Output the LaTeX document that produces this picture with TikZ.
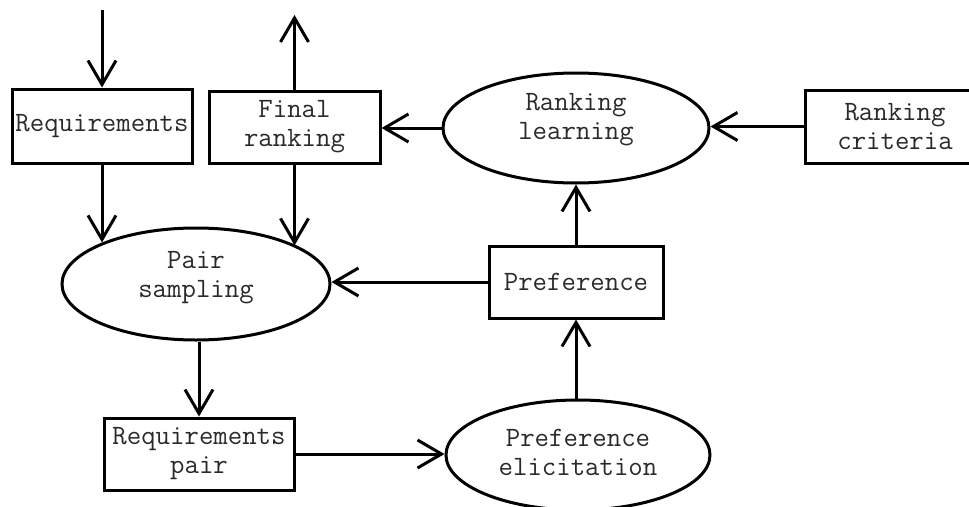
\documentclass[tikz,border=0pt]{standalone}
\usetikzlibrary{shapes.geometric,arrows.meta}
\definecolor{txtc}{HTML}{2a2a2a}
\begin{document}
\begin{tikzpicture}[x=1pt,y=1pt,
  txt/.style={font=\ttfamily\fontsize{28}{29}\selectfont,text=txtc,align=center,inner sep=0pt},
  base/.style={draw=black,line width=3pt,txt},
  boxn/.style={base,rectangle},
  elln/.style={base,ellipse,minimum width=266pt,minimum height=110pt},
  conn/.style={line width=3pt,-{Straight Barb[length=24pt,width=28pt,line width=3pt]}}]
\useasboundingbox (0,0) rectangle (969,-506);
\clip (0,0) rectangle (969,-506);
\node[boxn,minimum width=180pt,minimum height=74pt] (req) at (102,-126) {Requirements};
\node[boxn,minimum width=171pt,minimum height=72pt] (fin) at (294.5,-127) {Final\\ranking};
\node[elln,label={[txt,yshift=8pt]center:Ranking\\learning}] (rl) at (576,-128) {};
\node[boxn,minimum width=180pt,minimum height=73pt] (crit) at (895,-126.5) {Ranking\\criteria};
\node[elln,minimum width=268pt,minimum height=112pt,label={[txt,yshift=6pt]center:Pair\\sampling}] (pair) at (196,-284) {};
\node[boxn,minimum width=174pt,minimum height=72pt] (pref) at (576,-282) {Preference};
\node[boxn,minimum width=190pt,minimum height=72pt] (reqp) at (199,-454) {Requirements\\pair};
\node[elln,minimum width=264pt,label={[txt,yshift=3pt]center:Preference\\elicitation}] (pe) at (578,-455) {};
\coordinate (in) at (102,-10);
\coordinate (out) at (294.5,-15);
\draw[conn] (in) -- (req.north);
\draw[conn] (fin.north) -- (out);
\draw[conn] (req.south) -- (req.south |- pair.156.9);
\draw[conn] (fin.south) -- (fin.south |- pair.21.3);
\draw[conn] (rl.west) -- (rl.west -| fin.east);
\draw[conn] (crit.west) -- (crit.west -| rl.east);
\draw[conn] (pref.west) -- (pref.west -| pair.east);
\draw[conn] (pref.north) -- (rl.south);
\draw[conn] (pe.north -| pref.south) -- (pref.south);
\draw[conn] (reqp.north |- pair.south) -- (reqp.north);
\draw[conn] (reqp.east) -- (reqp.east -| pe.west);
\end{tikzpicture}
\end{document}
